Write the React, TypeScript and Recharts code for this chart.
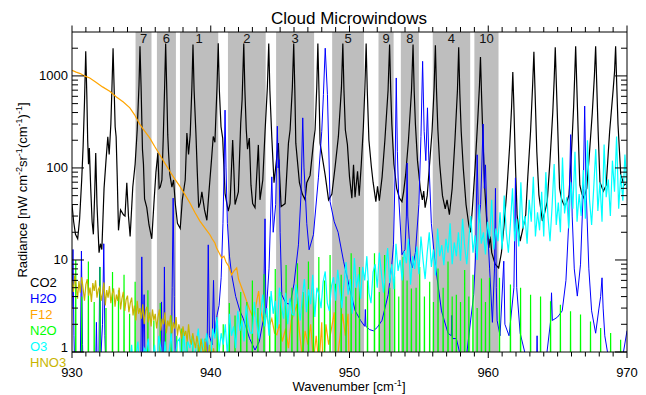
import { LineChart, Line, XAxis, YAxis, ReferenceArea, Legend } from "recharts"

const FONT = '"Liberation Sans", Arial, Helvetica, sans-serif'

// microwindows (cm-1)
const windowLabels = ["7", "6", "1", "2", "3", "5", "9", "8", "4", "10"]
const windowStart = [934.58, 936.12, 937.78, 941.24, 944.71, 948.75, 952.09, 953.7, 956.0, 959.0]
const windowEnd = [935.73, 937.49, 940.54, 943.96, 947.45, 951.04, 953.18, 955.0, 958.7, 960.74]

const xTicks = [
  930, 931, 932, 933, 934, 935, 936, 937, 938, 939, 940, 941, 942, 943, 944, 945, 946, 947, 948, 949, 950,
  951, 952, 953, 954, 955, 956, 957, 958, 959, 960, 961, 962, 963, 964, 965, 966, 967, 968, 969, 970,
]
const yTicks = [
  1, 2, 3, 4, 5, 6, 7, 8, 9, 10, 20, 30, 40, 50, 60, 70, 80, 90, 100, 200, 300, 400, 500, 600, 700, 800, 900,
  1000, 2000,
]

// CO2 spectrum [wavenumber, radiance]
const co2: [number, number][] = [
  [930.0, 40], [930.12, 26], [930.25, 19], [930.41, 17], [930.55, 28], [930.7, 75], [930.8, 170], [930.9, 520],
  [930.99, 1850], [931.07, 600], [931.13, 200], [931.19, 110], [931.25, 165], [931.35, 60], [931.45, 26], [931.54, 19],
  [931.63, 50], [931.71, 145], [931.8, 40], [931.95, 12], [932.05, 15], [932.15, 13], [932.31, 60], [932.45, 120],
  [932.58, 218], [932.68, 140], [932.8, 300], [932.89, 850], [932.96, 2000], [933.04, 700], [933.11, 280], [933.18, 218],
  [933.26, 80], [933.35, 21], [933.5, 35], [933.71, 31], [933.82, 30], [933.95, 69], [934.07, 30], [934.19, 18],
  [934.38, 62], [934.55, 110], [934.7, 260], [934.83, 800], [934.9, 2100], [934.98, 750], [935.08, 157], [935.15, 110],
  [935.23, 46], [935.39, 37], [935.55, 24], [935.75, 17], [935.9, 40], [936.05, 90], [936.19, 145], [936.28, 60],
  [936.36, 62], [936.48, 74], [936.58, 220], [936.68, 800], [936.75, 2250], [936.83, 700], [936.9, 230], [936.96, 145],
  [937.05, 85], [937.2, 62], [937.32, 74], [937.45, 40], [937.6, 25], [937.8, 22], [937.95, 45], [938.16, 74],
  [938.28, 240], [938.4, 140], [938.52, 230], [938.64, 750], [938.72, 2200], [938.8, 700], [938.93, 240], [939.03, 90],
  [939.13, 37], [939.25, 42], [939.36, 55], [939.55, 35], [939.72, 27], [939.85, 50], [940.05, 120], [940.18, 220],
  [940.3, 190], [940.45, 750], [940.54, 2270], [940.62, 700], [940.74, 280], [940.86, 211], [941.03, 53], [941.26, 34],
  [941.39, 41], [941.58, 201], [941.67, 90], [941.75, 40], [941.99, 55], [942.16, 308], [942.26, 550], [942.38, 2250],
  [942.46, 700], [942.56, 260], [942.65, 160], [942.78, 211], [942.9, 65], [943.02, 41], [943.19, 37], [943.43, 178],
  [943.55, 45], [943.75, 74], [943.92, 260], [944.08, 750], [944.18, 2250], [944.26, 700], [944.4, 215], [944.56, 69],
  [944.87, 186], [944.97, 80], [945.07, 38], [945.36, 41], [945.6, 186], [945.72, 260], [945.88, 750], [945.98, 2250],
  [946.06, 700], [946.13, 186], [946.39, 69], [946.6, 52], [946.8, 45], [946.92, 69], [947.16, 83], [947.4, 186],
  [947.52, 260], [947.64, 750], [947.72, 2250], [947.8, 700], [947.88, 186], [948.25, 83], [948.49, 45], [948.73, 52],
  [948.97, 105], [949.2, 220], [949.42, 750], [949.52, 2250], [949.6, 700], [949.7, 260], [949.85, 179], [950.0, 80],
  [950.17, 47], [950.29, 108], [950.4, 48], [950.58, 92], [950.7, 50], [950.85, 110], [951.0, 280], [951.11, 750],
  [951.2, 2250], [951.28, 700], [951.4, 200], [951.57, 105], [951.7, 70], [951.9, 43], [952.02, 63], [952.15, 44],
  [952.35, 80], [952.55, 200], [952.78, 700], [952.89, 2200], [952.97, 700], [953.05, 300], [953.2, 110], [953.4, 60],
  [953.6, 47], [953.78, 43], [953.9, 55], [954.05, 85], [954.25, 200], [954.47, 700], [954.58, 2200], [954.66, 700],
  [954.75, 300], [954.9, 120], [955.1, 60], [955.25, 45], [955.35, 56], [955.45, 37], [955.6, 50], [955.75, 100],
  [955.95, 250], [956.1, 750], [956.19, 2150], [956.27, 700], [956.37, 260], [956.5, 110], [956.7, 50], [956.9, 36],
  [957.03, 45], [957.2, 31], [957.4, 60], [957.6, 200], [957.78, 700], [957.87, 2050], [957.95, 650], [958.05, 250],
  [958.2, 100], [958.4, 40], [958.6, 24], [958.72, 20], [958.85, 35], [959.05, 100], [959.25, 350], [959.37, 800],
  [959.44, 1600], [959.52, 600], [959.62, 200], [959.75, 60], [959.9, 25], [960.04, 13.5], [960.15, 18], [960.25, 12],
  [960.5, 9], [960.75, 8.2], [960.95, 12], [961.15, 25], [961.35, 60], [961.55, 180], [961.68, 450], [961.77, 1100],
  [961.85, 450], [961.95, 120], [962.08, 31], [962.3, 16], [962.5, 22], [962.7, 31], [962.85, 80], [963.05, 250],
  [963.2, 800], [963.29, 1830], [963.37, 700], [963.5, 150], [963.65, 51], [963.9, 26.5], [964.05, 32], [964.25, 43],
  [964.45, 120], [964.65, 400], [964.75, 900], [964.83, 2050], [964.91, 800], [965.0, 300], [965.14, 60], [965.3, 45],
  [965.5, 38.6], [965.65, 42], [965.82, 51], [966.0, 150], [966.15, 450], [966.23, 1000], [966.3, 2100], [966.38, 800],
  [966.48, 250], [966.6, 65], [966.75, 52], [966.9, 47], [967.1, 60], [967.3, 150], [967.5, 400], [967.65, 1000],
  [967.74, 2100], [967.82, 800], [967.92, 250], [968.05, 70], [968.3, 56], [968.5, 65], [968.75, 250], [969.0, 700],
  [969.1, 1100], [969.18, 2100], [969.26, 800], [969.35, 300], [969.55, 84], [969.8, 65], [970.0, 68],
]

// H2O spectrum
const h2o: [number, number][] = [
  [930.0, 3], [930.07, 13], [930.14, 1.5], [930.25, 0.3], [930.58, 0.4], [930.68, 12.5], [930.76, 1.2], [930.85, 0.3],
  [931.68, 0.4], [931.76, 2.1], [931.83, 0.5], [931.93, 0.6], [932.0, 8.4], [932.08, 0.9], [932.2, 2], [932.29, 15],
  [932.37, 1.5], [932.5, 0.3], [934.95, 0.4], [935.03, 10.8], [935.1, 1], [935.2, 4.2], [935.28, 0.4], [936.38, 0.4],
  [936.45, 3.5], [936.52, 0.5], [936.6, 0.5], [936.66, 8.4], [936.72, 0.6], [937.15, 0.6], [937.22, 5], [937.29, 47],
  [937.37, 4], [937.45, 0.8], [937.6, 0.3], [939.65, 0.3], [939.75, 1.5], [939.82, 14.6], [939.9, 1.5], [940.1, 1.2],
  [940.2, 6], [940.28, 1.5], [940.45, 2.5], [940.6, 3.2], [940.75, 6.4], [940.88, 25], [940.97, 110], [941.03, 425],
  [941.1, 100], [941.2, 25], [941.35, 11], [941.5, 7], [941.8, 4], [942.1, 2.8], [942.35, 2.3], [942.8, 1.4],
  [943.19, 1.05], [943.5, 1.3], [943.8, 2.3], [943.91, 28], [943.98, 2.4], [944.2, 8], [944.4, 80], [944.5, 20],
  [944.68, 40], [944.8, 284], [944.86, 100], [944.92, 123], [945.0, 20], [945.12, 4.2], [945.4, 3.4], [945.72, 3.3],
  [946.0, 5.5], [946.32, 14.6], [946.5, 50], [946.63, 350], [946.72, 100], [946.8, 60], [946.92, 25], [947.09, 12.9],
  [947.4, 18.8], [947.76, 78], [948.0, 250], [948.12, 625], [948.25, 2000], [948.41, 625], [948.6, 43], [948.9, 26],
  [949.18, 20], [949.57, 9.7], [950.0, 5], [950.41, 2.8], [950.8, 2.2], [951.1, 1.9], [951.14, 2.9], [951.18, 1.9],
  [951.45, 1.75], [951.73, 1.7], [952.0, 1.85], [952.34, 2.2], [952.79, 4.2], [953.05, 9], [953.17, 14.6], [953.28, 80],
  [953.37, 950], [953.45, 150], [953.54, 51], [953.78, 11.4], [954.0, 13], [954.1, 30], [954.15, 113], [954.2, 30],
  [954.4, 10], [954.52, 8.2], [954.75, 12], [955.0, 40], [955.15, 220], [955.27, 1440], [955.38, 250], [955.5, 120],
  [955.62, 450], [955.72, 120], [955.9, 25], [956.15, 9.7], [956.63, 2.8], [957.1, 1.6], [957.34, 1.5], [957.38, 2.5],
  [957.42, 1.4], [957.7, 1.4], [958.0, 0.9], [958.3, 0.6], [958.6, 1.5], [958.95, 4.2], [959.1, 12], [959.2, 139],
  [959.3, 25], [959.45, 40], [959.63, 300], [959.72, 60], [959.8, 108], [959.9, 30], [960.1, 8], [960.3, 2.1],
  [960.45, 8], [960.52, 60], [960.58, 5], [960.64, 2.2], [960.85, 1.5], [961.12, 9.7], [961.2, 2], [961.5, 1.5],
  [961.85, 5], [961.96, 78], [962.05, 5], [962.3, 1.6], [962.7, 0.9], [963.2, 0.6], [963.47, 0.5], [963.52, 1.5],
  [963.57, 0.5], [964.2, 0.9], [964.5, 2.2], [964.56, 4.4], [964.62, 2.2], [965.0, 2.4], [965.33, 2.8], [965.6, 6],
  [965.8, 25], [965.94, 230], [966.05, 30], [966.2, 8], [966.42, 4.05], [966.65, 9], [966.85, 60], [966.95, 470],
  [967.05, 60], [967.25, 8], [967.45, 2.8], [967.74, 1.6], [967.98, 3.0], [968.1, 4], [968.2, 6.4], [968.28, 3],
  [968.4, 1.5], [968.7, 0.8], [969.0, 0.5], [969.5, 0.6], [970.0, 1.7],
]

// F12 continuum
const f12: [number, number][] = [
  [930.0, 1150], [930.3, 1100], [930.6, 1060], [930.9, 1000], [931.28, 950], [931.7, 860], [932.2, 760], [932.72, 680],
  [933.2, 590], [933.7, 520], [934.17, 450], [934.5, 380], [934.9, 295], [935.25, 250], [935.6, 212], [935.95, 172],
  [936.33, 139], [936.7, 112], [937.05, 92], [937.4, 76], [937.78, 63], [938.15, 51], [938.5, 41.6], [938.85, 33],
  [939.22, 26.4], [939.6, 22], [939.94, 18.8], [940.1, 17], [940.3, 15.3], [940.42, 13.5], [940.6, 12], [940.79, 10.5],
  [940.95, 11], [941.1, 9.5], [941.3, 8.5], [941.5, 6.9], [941.65, 7.5], [941.87, 8.2], [942.0, 6.2], [942.23, 5.0],
  [942.4, 4.3], [942.59, 3.55], [942.8, 2.9], [943.07, 2.34], [943.25, 3.2], [943.45, 4.6], [943.6, 2.8], [943.8, 2.1],
  [944.0, 2.6], [944.2, 1.9], [944.4, 2.3], [944.6, 1.6], [944.76, 1.54], [944.95, 2.0], [945.15, 1.3], [945.4, 1.8],
  [945.6, 1.1], [945.8, 2.2], [946.0, 2.6], [946.2, 3.3], [946.4, 1.6], [946.6, 0.9], [946.8, 1.7], [947.0, 1.2],
  [947.2, 2.0], [947.4, 0.8], [947.6, 1.5], [947.8, 0.7], [948.0, 2.1], [948.1, 0.5], [948.3, 2.0], [948.5, 1.2],
  [948.9, 2.7], [949.0, 0.6], [949.3, 1.4], [949.5, 2.6], [949.7, 1.5], [949.9, 2.6], [950.0, 0.4],
]

// N2O line centres and peak heights
const n2oCentres = [
  930.27, 930.7, 931.18, 931.6, 932.02, 932.45, 932.92, 933.35, 933.75, 934.15, 934.55, 935.47, 935.9, 936.36, 936.75,
  937.15, 937.55, 937.92, 938.3, 938.7, 939.1, 939.6, 940.05, 940.47, 940.9, 941.34, 941.75, 942.16, 942.6, 943.0,
  943.4, 943.84, 944.25, 944.65, 945.05, 945.43, 945.85, 946.25, 946.65, 947.04, 947.4, 947.79, 948.2, 948.6, 949.0,
  949.4, 949.75, 950.12, 950.45, 950.72, 951.3, 951.8, 952.15, 952.53, 952.9, 953.25, 953.55, 953.86, 954.15, 954.46,
  954.8, 955.06, 955.4, 955.78, 956.05, 956.38, 956.75, 957.1, 957.4, 957.7, 958.0, 958.3, 958.6, 958.9, 959.2,
  959.51, 959.8, 960.09, 960.81, 961.6, 962.33, 963.05, 963.77, 964.49, 965.2, 965.93, 966.65, 967.37, 968.1, 968.82,
  969.54,
]
const n2oPeaks = [
  10, 4, 9.6, 3.5, 8.4, 3, 7.4, 4.7, 6.9, 2.6, 5.8, 4.7, 2.2, 3.4, 1.8,
  2.5, 1.5, 1.8, 1.3, 1.5, 1.2, 1.4, 1.3, 2.2, 2.0, 3.4, 2.5, 4.5, 3.5, 6.0,
  3.0, 7.0, 4.0, 8.0, 4.5, 8.8, 5.0, 9.2, 4.5, 9.6, 5.0, 10.8, 6.0, 11.3, 5.5,
  6.9, 4.0, 11.8, 5.0, 8.4, 6.0, 11.8, 4.5, 11.3, 5.0, 6.6, 4.0, 10.8, 6.0, 4.9,
  5.0, 8.4, 4.0, 5.8, 3.5, 8.1, 5.0, 9.6, 4.0, 4.2, 3.5, 7.8, 4.0, 6.9, 3.0,
  6.3, 3.5, 6.4, 6.4, 5.4, 5.0, 4.2, 4.0, 3.55, 3.27, 2.77, 2.56, 2.15, 1.82, 1.61,
  1.36,
]
const n2oFloor = 0.3

// O3, sampled every 0.15 cm-1 from 934
const o3Start = 934
const o3Step = 0.15
const o3Values = [
  0.4, 0.7, 1.2, 0.5, 0.9, 1.3, 0.6, 0.4, 1.1, 1.0, 1.4, 0.5, 0.8, 1.2, 0.6, 1.5, 1.1, 0.5, 1.3, 0.7,
  1.0, 1.6, 0.7, 0.9, 1.3, 1.4, 0.6, 1.7, 0.8, 1.3, 1.1, 1.5, 0.7, 1.2, 1.8, 0.9, 1.4, 1.0, 1.6, 1.1,
  0.9, 1.8, 1.4, 2.4, 1.0, 1.6, 1.2, 2.0, 0.9, 2.6, 1.5, 1.9, 1.1, 2.8, 1.7, 2.2, 1.3, 3.2, 2.0, 1.6,
  1.6, 3.5, 2.1, 1.4, 2.8, 4.2, 1.9, 3.0, 1.5, 4.6, 2.6, 3.6, 1.8, 5.0, 3.1, 2.3, 4.4, 2.0, 3.8, 2.6,
  2.5, 5.4, 3.6, 2.2, 4.0, 6.2, 2.7, 4.8, 3.3, 6.9, 2.4, 5.0, 4.2, 3.0, 5.8, 7.5, 3.4, 2.8, 5.2, 6.5,
  3.6, 7.8, 4.8, 3.0, 5.6, 9.5, 4.2, 6.2, 2.6, 10.5, 5.0, 7.0, 3.8, 8.4, 6.0, 11.0, 4.4, 3.4, 7.4, 9.0,
  5.0, 12.0, 7.2, 4.4, 8.0, 13.5, 5.6, 9.0, 4.8, 15.0, 7.6, 10.0, 6.0, 12.5, 9.2, 17.0, 5.4, 11.0, 8.0, 14.0,
  7.0, 18.0, 10.0, 6.2, 12.0, 20.0, 8.4, 13.0, 6.8, 22.0, 11.0, 14.5, 8.8, 17.0, 12.0, 25.0, 9.0, 15.5, 11.0, 20.0,
  9.8, 28.0, 14.0, 9.0, 17.0, 30.0, 12.0, 18.5, 10.0, 40.0, 15.0, 20.0, 11.5, 26.0, 17.0, 45.0, 13.0, 22.0, 16.0, 33.0,
  13.0, 50.0, 20.0, 12.0, 25.0, 60.0, 16.0, 28.0, 14.0, 70.0, 22.0, 30.0, 15.0, 45.0, 26.0, 80.0, 18.0, 33.0, 21.0, 55.0,
  18.0, 90.0, 30.0, 16.0, 38.0, 110.0, 24.0, 42.0, 20.0, 130.0, 32.0, 48.0, 22.0, 70.0, 36.0, 150.0, 26.0, 52.0, 30.0, 95.0,
  28.0, 200.0, 45.0, 24.0, 60.0, 160.0, 34.0, 70.0, 26.0, 180.0, 48.0, 75.0, 30.0, 120.0, 55.0, 220.0, 36.0, 85.0, 44.0, 140.0,
  60.0,
]

// HNO3, sampled every 0.1 cm-1 from 930
const hno3Start = 930
const hno3Step = 0.1
const hno3Values = [
  6.0, 4.5, 6.8, 5.2, 3.8, 5.9, 4.4, 6.5, 4.9, 3.6,
  5.4, 6.2, 4.1, 5.0, 3.5, 5.6, 4.6, 6.0, 3.9, 4.8,
  5.1, 3.6, 4.4, 5.7, 3.2, 4.7, 3.9, 5.2, 3.4, 4.3,
  4.9, 3.1, 4.2, 3.6, 5.0, 2.9, 3.8, 4.5, 2.8, 3.7,
  4.1, 2.7, 3.4, 3.9, 2.5, 3.2, 2.2, 3.6, 2.6, 3.0,
  2.3, 3.3, 2.0, 2.8, 3.1, 2.1, 2.7, 1.9, 2.9, 2.2,
  2.6, 1.8, 2.4, 2.9, 1.7, 2.3, 2.0, 2.7, 1.6, 2.2,
  1.9, 2.5, 1.6, 2.1, 1.8, 2.4, 1.5, 2.0, 1.7, 1.4,
  1.9, 1.5, 1.7, 1.3, 2.0, 1.4, 1.2, 1.6, 1.3, 1.1,
  1.5, 1.2, 1.0, 1.4, 1.1, 0.9, 1.3, 1.0, 0.8, 1.2,
  0.9, 0.7, 1.1, 0.8, 0.6, 0.9, 0.6, 0.5, 0.7, 0.4,
  0.4,
]

const names = ["CO2", "H2O", "F12", "N2O", "O3", "HNO3"]
const colors = ["#000000", "#0000ff", "#ffa500", "#00ff00", "#00ffff", "#c8b400"]

const pairs = (arr: [number, number][]) => arr.map(([x, y]) => ({ x, y }))
const grid = (start: number, step: number, vals: number[]) =>
  vals.map((y, i) => ({ x: +(start + i * step).toFixed(3), y }))

const co2Data = pairs(co2)
const h2oData = pairs(h2o)
const f12Data = pairs(f12)
const n2oData = n2oCentres.flatMap((c, i) => [
  { x: c - 0.02, y: n2oFloor },
  { x: c, y: n2oPeaks[i] },
  { x: c + 0.02, y: n2oFloor },
])
const o3Data = grid(o3Start, o3Step, o3Values)
const hno3Data = grid(hno3Start, hno3Step, hno3Values)

const isDecade = (v: number) => Math.abs(Math.log10(v) - Math.round(Math.log10(v))) < 1e-9

const BottomTick = (props: any) => {
  const { x, y, payload } = props
  const major = payload.value % 10 === 0
  return (
    <g>
      <line x1={x} y1={y} x2={x} y2={y + (major ? 6 : 4.5)} stroke="#000" />
      {major && (
        <text x={x} y={y + 25} textAnchor="middle" fontSize={13} fontFamily={FONT} fill="#000">
          {payload.value}
        </text>
      )}
    </g>
  )
}

const TopTick = (props: any) => {
  const { x, y, payload } = props
  const major = payload.value % 10 === 0
  return <line x1={x} y1={y} x2={x} y2={y - (major ? 6.5 : 5)} stroke="#000" />
}

const LeftTick = (props: any) => {
  const { x, y, payload } = props
  const major = isDecade(payload.value)
  return (
    <g>
      <line x1={x} y1={y} x2={x + (major ? 12 : 6)} y2={y} stroke="#000" />
      {major && (
        <text
          x={x - 4}
          y={y + 4.5 - (payload.value === 1 ? 5 : 0)}
          textAnchor="end"
          fontSize={13}
          fontFamily={FONT}
          fill="#000"
        >
          {payload.value}
        </text>
      )}
    </g>
  )
}

const RightTick = (props: any) => {
  const { x, y, payload } = props
  const major = isDecade(payload.value)
  return <line x1={x} y1={y} x2={x - (major ? 12 : 6)} y2={y} stroke="#000" />
}

const sup = { fontSize: 9, position: "relative", top: -5 } as const

const LegendBox = () => (
  <div style={{ fontFamily: FONT, fontSize: 13, lineHeight: "16.1px" }}>
    {names.map((n, i) => (
      <div key={n} style={{ color: colors[i] }}>
        {n}
      </div>
    ))}
  </div>
)

export default function App() {
  return (
    <div style={{ position: "absolute", left: 0, top: 0, width: 646, height: 395, background: "#fff", overflow: "hidden" }}>
      <LineChart width={646} height={395} margin={{ top: 31, right: 18, bottom: 42, left: 71 }}>
        <XAxis
          dataKey="x"
          type="number"
          domain={[930, 970]}
          ticks={xTicks}
          interval={0}
          allowDataOverflow
          height={1}
          tickSize={0}
          tickMargin={0}
          tick={<BottomTick />}
          axisLine={{ stroke: "#000" }}
        />
        <XAxis
          xAxisId="top"
          orientation="top"
          dataKey="x"
          type="number"
          domain={[930, 970]}
          ticks={xTicks}
          interval={0}
          allowDataOverflow
          height={1}
          tickSize={0}
          tickMargin={0}
          tick={<TopTick />}
          axisLine={{ stroke: "#000" }}
        />
        <YAxis
          type="number"
          scale="log"
          domain={[1, 3000]}
          ticks={yTicks}
          interval={0}
          allowDataOverflow
          width={1}
          tickSize={0}
          tickMargin={0}
          tick={<LeftTick />}
          axisLine={{ stroke: "#000" }}
        />
        <YAxis
          yAxisId="right"
          orientation="right"
          type="number"
          scale="log"
          domain={[1, 3000]}
          ticks={yTicks}
          interval={0}
          allowDataOverflow
          width={1}
          tickSize={0}
          tickMargin={0}
          tick={<RightTick />}
          axisLine={{ stroke: "#000" }}
        />
        {windowLabels.map((lab, i) => (
          <ReferenceArea
            key={lab}
            x1={windowStart[i]}
            x2={windowEnd[i]}
            fill="#bebebe"
            fillOpacity={1}
            stroke="none"
            ifOverflow="hidden"
            label={{ value: lab, position: "insideTop", offset: 1.5, fontSize: 13, fill: "#111", fontFamily: FONT }}
          />
        ))}
        <Line data={co2Data} dataKey="y" name="CO2" stroke={colors[0]} strokeWidth={1.2} dot={false} isAnimationActive={false} />
        <Line data={h2oData} dataKey="y" name="H2O" stroke={colors[1]} strokeWidth={1} dot={false} isAnimationActive={false} />
        <Line data={f12Data} dataKey="y" name="F12" stroke={colors[2]} strokeWidth={1.2} dot={false} isAnimationActive={false} />
        <Line data={n2oData} dataKey="y" name="N2O" stroke={colors[3]} strokeWidth={1.2} dot={false} isAnimationActive={false} />
        <Line data={o3Data} dataKey="y" name="O3" stroke={colors[4]} strokeWidth={1.2} dot={false} isAnimationActive={false} />
        <Line data={hno3Data} dataKey="y" name="HNO3" stroke={colors[5]} strokeWidth={1.2} dot={false} isAnimationActive={false} />
        <Legend
          layout="horizontal"
          verticalAlign="middle"
          align="center"
          content={<LegendBox />}
          wrapperStyle={{ position: "absolute", left: 30, top: 275, width: 60, height: 100 }}
        />
      </LineChart>
      <div
        style={{
          position: "absolute", left: 199, top: 9, width: 300, textAlign: "center",
          fontFamily: FONT, fontSize: 17, lineHeight: "20px", color: "#000",
        }}
      >
        Cloud Microwindows
      </div>
      <div
        style={{
          position: "absolute", left: 229, top: 379, width: 240, height: 15, textAlign: "center",
          fontFamily: FONT, fontSize: 13, lineHeight: "15px", color: "#000",
        }}
      >
        Wavenumber [cm<span style={sup}>-1</span>]
      </div>
      <div
        style={{
          position: "absolute", left: 23 - 130, top: 190 - 8, width: 260, height: 16, textAlign: "center",
          fontFamily: FONT, fontSize: 13, lineHeight: "16px", color: "#000", transform: "rotate(-90deg)",
          whiteSpace: "nowrap",
        }}
      >
        Radiance [nW cm<span style={sup}>-2</span>sr<span style={sup}>-1</span>(cm<span style={sup}>-1</span>)
        <span style={sup}>-1</span>]
      </div>
    </div>
  )
}
